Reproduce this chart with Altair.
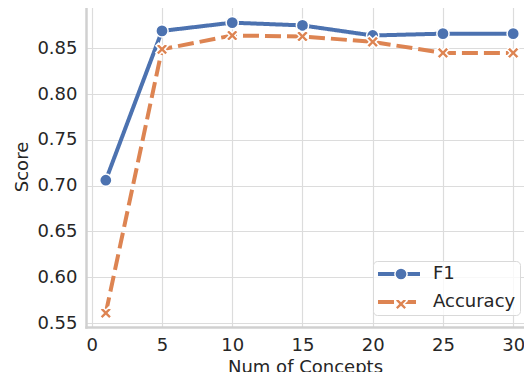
import altair as alt
import pandas as pd

# ---- data ----
concepts = [1, 5, 10, 15, 20, 25, 30]
f1_scores = [0.706, 0.869, 0.878, 0.875, 0.864, 0.866, 0.866]
accuracy_scores = [0.561, 0.849, 0.864, 0.863, 0.857, 0.845, 0.845]
series_names = ["F1", "Accuracy"]
x_ticks = [0, 5, 10, 15, 20, 25, 30]
y_ticks = [0.55, 0.60, 0.65, 0.70, 0.75, 0.80, 0.85]

rows = []
for name, vals in zip(series_names, [f1_scores, accuracy_scores]):
    for c, v in zip(concepts, vals):
        rows.append({"concepts": c, "score": v, "series": name, "marker": name})
df = pd.DataFrame(rows)

colors = ["#4c72b0", "#dd8452"]
FONT = "DejaVu Sans"
TEXT = "#262626"
FRAME = "#d0d0d0"
X_PATH = ("M-0.55,-1L0,-0.45L0.55,-1L1,-0.55L0.45,0L1,0.55L0.55,1L0,0.45"
          "L-0.55,1L-1,0.55L-0.45,0L-1,-0.55Z")
LINE_PATH = "M-3,0H3"
X_DOMAIN = [-0.41, 30.77]
Y_DOMAIN = [0.5457, 0.8962]

x_bottom = alt.X(
    "concepts:Q",
    scale=alt.Scale(domain=X_DOMAIN, nice=False, zero=False),
    axis=alt.Axis(values=x_ticks, format="d", title="Num of Concepts",
                  labelPadding=9, titlePadding=4),
)
x_top = alt.X(
    "concepts:Q",
    scale=alt.Scale(domain=X_DOMAIN, nice=False, zero=False),
    axis=alt.Axis(orient="top", labels=False, grid=False, title=None, values=x_ticks),
)
y_enc = alt.Y(
    "score:Q",
    scale=alt.Scale(domain=Y_DOMAIN, nice=False, zero=False),
    axis=alt.Axis(values=y_ticks, format=".2f", title="Score",
                  labelPadding=9, titlePadding=5),
)

leg_lines = alt.Legend(
    title=None, orient="none", legendX=287, legendY=255, padding=4,
    fillColor="rgba(255,255,255,0.8)", strokeColor="#d9d9d9", cornerRadius=4,
    symbolType=LINE_PATH, symbolSize=196, symbolStrokeWidth=4, symbolOffset=13,
    labelOffset=25, labelFont=FONT, labelFontSize=18, labelColor=TEXT,
    rowPadding=10,
)
leg_marks = alt.Legend(
    title=None, orient="none", legendX=287, legendY=255, padding=4,
    symbolSize=150, symbolOffset=15, symbolStrokeColor="white", symbolStrokeWidth=1.5,
    labelOffset=30, labelFont=FONT, labelFontSize=18, labelOpacity=0,
    rowPadding=10,
)

lines = alt.Chart(df).mark_line(strokeWidth=4).encode(
    x=x_bottom,
    y=y_enc,
    color=alt.Color("series:N", scale=alt.Scale(domain=series_names, range=colors),
                    legend=leg_lines),
    strokeDash=alt.StrokeDash("series:N",
                              scale=alt.Scale(domain=series_names, range=[[1, 0], [16, 6]]),
                              legend=leg_lines),
)

points = alt.Chart(df).mark_point(filled=True, size=150, stroke="white",
                                  strokeWidth=1.5, opacity=1).encode(
    x=x_top,
    y=y_enc,
    color=alt.Color("marker:N", scale=alt.Scale(domain=series_names, range=colors),
                    legend=leg_marks),
    shape=alt.Shape("marker:N", scale=alt.Scale(domain=series_names, range=["circle", X_PATH]),
                    legend=leg_marks),
)

chart = (
    alt.layer(lines, points)
    .resolve_scale(x="independent", color="independent", shape="independent",
                   strokeDash="independent")
    .resolve_axis(x="independent")
    .properties(
        width=438, height=321,
        autosize=alt.AutoSizeParams(type="none"),
        padding={"left": 78, "top": -2, "right": 0, "bottom": 45},
        background="white",
    )
    .configure_view(stroke=None)
    .configure_axis(
        grid=True, gridColor="#dcdcdc", gridWidth=1.2,
        domain=True, domainColor=FRAME, domainWidth=2.5, domainCap="square",
        ticks=False, tickSize=0,
        labelFont=FONT, labelFontSize=18, labelColor=TEXT,
        titleFont=FONT, titleFontSize=18, titleFontWeight="normal", titleColor=TEXT,
    )
)

chart.save("out.html", embed_options={"renderer": "svg", "actions": False})
